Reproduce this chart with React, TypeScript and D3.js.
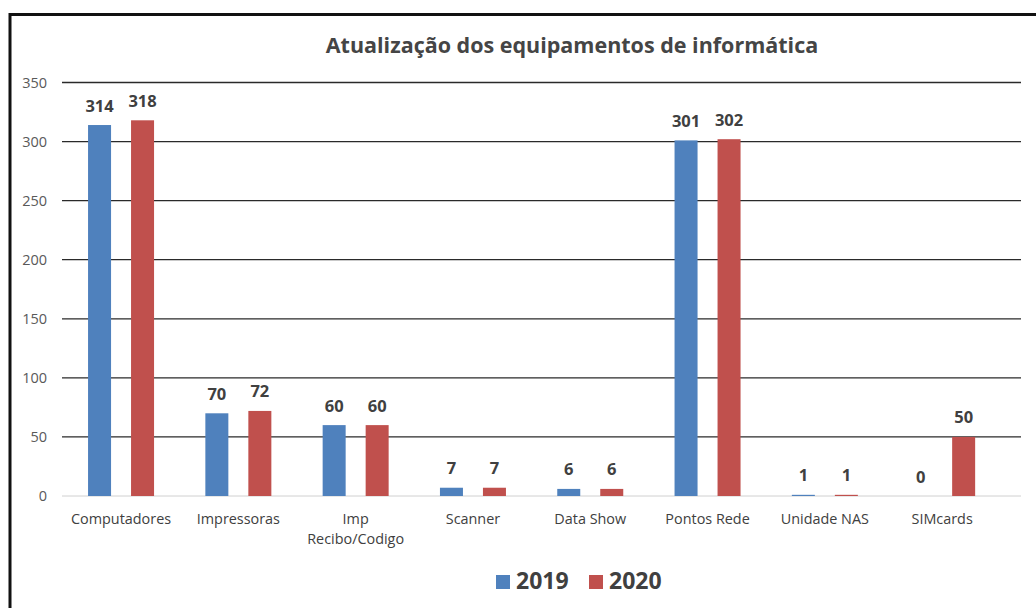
import React from "react";
import * as d3 from "d3";

const categories = [
  "Computadores",
  "Impressoras",
  "Imp\nRecibo/Codigo",
  "Scanner",
  "Data Show",
  "Pontos Rede",
  "Unidade NAS",
  "SIMcards",
];
const series = ["2019", "2020"];
const values2019 = [314, 70, 60, 7, 6, 301, 1, 0];
const values2020 = [318, 72, 60, 7, 6, 302, 1, 50];
const yTicks = [0, 50, 100, 150, 200, 250, 300, 350];
const colors = ["#4F81BD", "#C0504D"];
const title = "Atualização dos equipamentos de informática";

const W = 1036;
const H = 608;
const FONT = "'Open Sans', 'Noto Sans', sans-serif";

export default function App() {
  const x = d3.scaleBand<string>().domain(categories).range([62.4, 1000.8]).padding(0);
  const xs = d3
    .scaleBand<string>()
    .domain(series)
    .range([-33, 33])
    .paddingInner(0.465)
    .paddingOuter(0);
  const y = d3.scaleLinear().domain([0, 350]).range([496, 82.5]);
  const gridX0 = 62;
  const gridX1 = 1021;
  const data = [values2019, values2020];

  return (
    <svg
      width={W}
      height={H}
      style={{ position: "absolute", left: 0, top: 0, background: "#fff" }}
      fontFamily={FONT}
    >
      <rect x={0} y={0} width={W} height={H} fill="#fff" />
      <rect x={10} y={14.5} width={W + 20} height={H + 20} fill="none" stroke="#111" strokeWidth={3} />
      <text
        x={572}
        y={52.5}
        textAnchor="middle"
        fontSize={21.5}
        fontWeight="bold"
        fill="#454545"
      >
        {title}
      </text>
      {yTicks.map((t) => (
        <g key={t}>
          <line
            x1={gridX0}
            x2={gridX1}
            y1={y(t)}
            y2={y(t)}
            stroke={t === 0 ? "#D0D0D0" : "#2a2a2a"}
            strokeWidth={t === 0 ? 1 : 1.3}
          />
          <text x={47} y={y(t) + 5} textAnchor="end" fontSize={14.5} fill="#595959">
            {t}
          </text>
        </g>
      ))}
      {categories.map((c, i) => {
        const cx = (x(c) as number) + x.bandwidth() / 2;
        return (
          <g key={c}>
            {series.map((s, si) => {
              const v = data[si][i];
              const bx = cx + (xs(s) as number);
              return (
                <g key={s}>
                  <rect
                    x={bx}
                    y={y(v)}
                    width={xs.bandwidth()}
                    height={y(0) - y(v)}
                    fill={colors[si]}
                  />
                  <text
                    x={bx + xs.bandwidth() / 2}
                    y={y(v) - 13.5}
                    textAnchor="middle"
                    fontSize={16.5}
                    fontWeight="bold"
                    fill="#404040"
                  >
                    {v}
                  </text>
                </g>
              );
            })}
            {c.split("\n").map((line, li) => (
              <text
                key={li}
                x={cx}
                y={524 + li * 19.6}
                textAnchor="middle"
                fontSize={14.4}
                fill="#404040"
              >
                {line}
              </text>
            ))}
          </g>
        );
      })}
      {series.map((s, si) => {
        const lx = [496, 589][si];
        return (
          <g key={s}>
            <rect x={lx} y={575} width={14} height={14} fill={colors[si]} />
            <text x={lx + 20} y={589} fontSize={23} fontWeight="bold" fill="#404040">
              {s}
            </text>
          </g>
        );
      })}
    </svg>
  );
}
